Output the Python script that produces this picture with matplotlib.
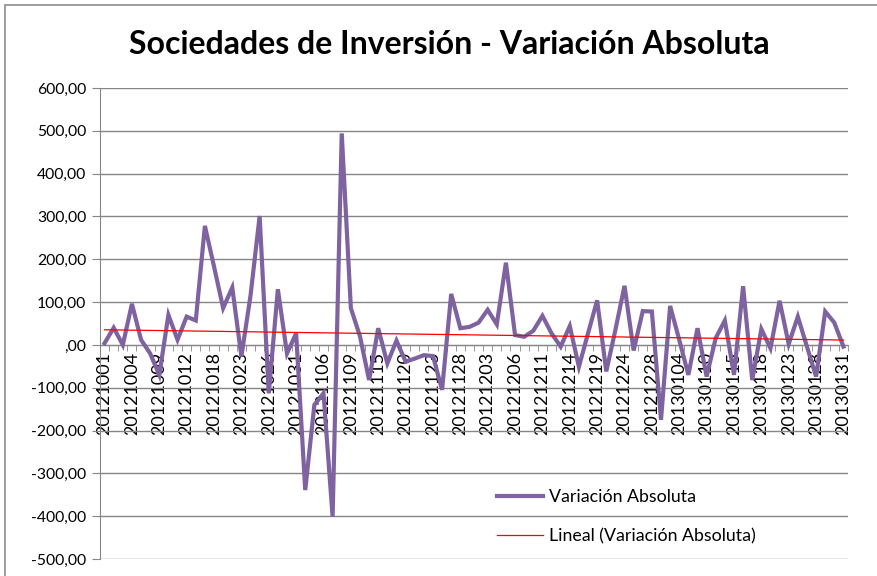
import numpy as np
import matplotlib.pyplot as plt
from matplotlib.patches import Rectangle

# --- data ---
dates = [
    '20121001', '20121002', '20121003', '20121004', '20121005', '20121008',
    '20121009', '20121010', '20121011', '20121012', '20121015', '20121017',
    '20121018', '20121019', '20121022', '20121023', '20121024', '20121025',
    '20121026', '20121029', '20121030', '20121031', '20121102', '20121105',
    '20121106', '20121107', '20121108', '20121109', '20121113', '20121114',
    '20121115', '20121116', '20121119', '20121120', '20121121', '20121122',
    '20121123', '20121126', '20121127', '20121128', '20121129', '20121130',
    '20121203', '20121204', '20121205', '20121206', '20121207', '20121210',
    '20121211', '20121212', '20121213', '20121214', '20121217', '20121218',
    '20121219', '20121220', '20121221', '20121224', '20121226', '20121227',
    '20121228', '20130102', '20130103', '20130104', '20130108', '20130109',
    '20130110', '20130111', '20130114', '20130115', '20130116', '20130117',
    '20130118', '20130121', '20130122', '20130123', '20130124', '20130125',
    '20130128', '20130129', '20130130', '20130131',
]
values = [
    4, 40, 0, 96, 12, -20, -70, 70, 12, 66,
    57, 278, 183, 86, 134, -27, 115, 301, -113, 130,
    -20, 27, -339, -140, -113, -401, 494, 86, 20, -82,
    39, -43, 10, -39, -32, -24, -26, -105, 119, 39,
    42, 52, 82, 48, 192, 23, 19, 33, 68, 27,
    -4, 44, -51, 27, 104, -62, 35, 138, -13, 79,
    78, -175, 91, 12, -70, 39, -74, 16, 57, -70,
    137, -82, 37, -8, 103, 2, 66, -4, -74, 78,
    52, -4,
]
yticks = [-500, -400, -300, -200, -100, 0, 100, 200, 300, 400, 500, 600]
ytick_labels = ['-500,00', '-400,00', '-300,00', '-200,00', '-100,00', ',00',
                '100,00', '200,00', '300,00', '400,00', '500,00', '600,00']
label_step = 3

title = 'Sociedades de Inversión - Variación Absoluta'
series_name = 'Variación Absoluta'
trend_name = 'Lineal (Variación Absoluta)'

W, H = 878, 576
plt.rcParams['font.family'] = ['Lato', 'DejaVu Sans']

fig = plt.figure(figsize=(W / 100, H / 100), dpi=100)

# chart area border (cut off at right/bottom like the screenshot)
border = Rectangle((5 / W, -0.1), 1.2, 1.1 - 5 / H,
                   transform=fig.transFigure, fill=False,
                   edgecolor='#8c8c8c', linewidth=1.2)
fig.patches.append(border)

ax = fig.add_axes([100 / W, 1 - 559 / H, 748 / W, 471 / H])

# axis crosses at 0 (set before styling ticks, it resets them)
for side in ['top', 'right']:
    ax.spines[side].set_visible(False)
ax.spines['bottom'].set_position(('data', 0))
ax.spines['bottom'].set_color('#868686')
ax.spines['left'].set_color('#868686')

x = np.arange(len(values))
ax.plot(x, values, color='#7f63a1', linewidth=3, solid_joinstyle='miter',
        label=series_name, zorder=3)

# excel style linear trendline
slope, intercept = np.polyfit(x, values, 1)
ax.plot(x, slope * x + intercept, color='#ff0000', linewidth=0.9,
        label=trend_name, zorder=4)

ax.set_xlim(-0.5, len(values) - 0.5)
ax.set_ylim(-500, 600)
ax.set_yticks(yticks)
ax.set_yticklabels(ytick_labels)

ax.set_xticks(x[::label_step])
ax.set_xticklabels(dates[::label_step])
ax.set_xticks(np.arange(-0.5, len(values)), minor=True)

ax.grid(axis='y', color='#868686', linewidth=1)
ax.set_axisbelow(True)

ax.tick_params(axis='x', which='major', length=0, pad=5, labelsize=13,
               labelrotation=90)
ax.tick_params(axis='x', which='minor', length=4, color='#868686', direction='out')
ax.tick_params(axis='y', length=6, color='#868686', pad=4, labelsize=11.3)

fig.text(449 / W, 1 - 45 / H, title, ha='center', va='center',
         fontsize=23, fontweight='bold')

ax.legend(loc='upper left', bbox_to_anchor=(497 / W, 1 - 489 / H),
          bbox_transform=fig.transFigure, frameon=False, fontsize=12.8,
          handlelength=2.6, handletextpad=0.3, labelspacing=1.3,
          borderpad=0, borderaxespad=0)

fig.savefig('out.png', dpi=100)
